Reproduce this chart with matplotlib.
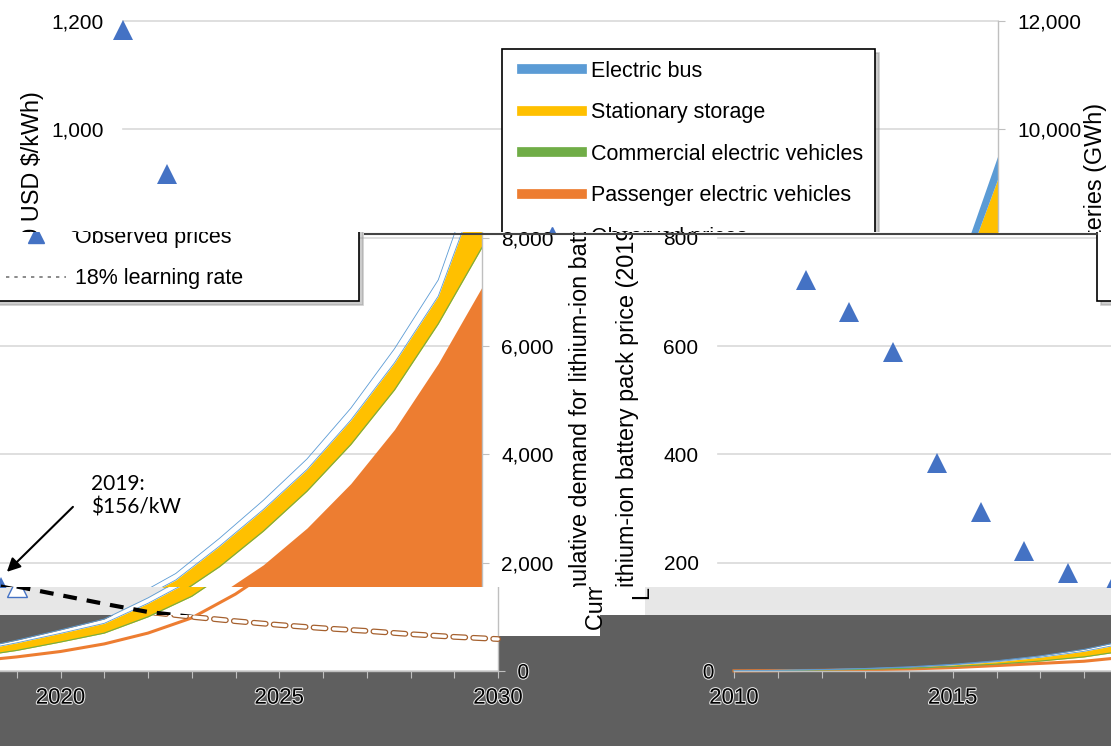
import matplotlib
matplotlib.use("Agg")
import numpy as np
import matplotlib.pyplot as plt
from matplotlib.patches import Rectangle
from matplotlib.lines import Line2D
from matplotlib.legend_handler import HandlerLine2D
from matplotlib.transforms import Bbox, TransformedBbox
import matplotlib.patheffects as pe

plt.rcParams['font.family'] = ['Liberation Sans', 'DejaVu Sans']

# ---------------- data ----------------
years = list(range(2010, 2031))
# cumulative demand for lithium-ion batteries (GWh), stacked layers
passenger = [2, 6, 12, 22, 38, 62, 100, 140, 180, 260, 360, 500, 700, 980,
             1420, 1960, 2640, 3460, 4460, 5680, 7090]
commercial = [1, 3, 5, 8, 12, 20, 27, 44, 80, 120, 175, 200, 300, 400, 505,
              620, 680, 720, 730, 730, 730]
stationary = [1, 4, 8, 13, 20, 31, 45, 70, 104, 140, 160, 180, 250, 300, 380,
              400, 400, 450, 500, 510, 1280]
bus = [1, 1, 3, 5, 8, 12, 18, 26, 36, 50, 65, 80, 100, 120, 145, 170, 195,
       220, 260, 300, 425]

hist_years = list(range(2010, 2020))
hist_price = [1183, 917, 721, 663, 588, 384, 293, 221, 181, 156]

proj_years = list(range(2019, 2031))
proj_price = [156, 140, 124, 109, 100, 92, 85, 79, 74, 68, 63, 59]

layer_labels = ["Electric bus", "Stationary storage",
                "Commercial electric vehicles", "Passenger electric vehicles"]
price_labels = ["Observed prices", "18% learning rate"]

C_BUS, C_STAT, C_COM, C_PAS = '#5B9BD5', '#FFC000', '#70AD47', '#ED7D31'
C_TRI = '#4472C4'

# ---------------- geometry (pixels) ----------------
W, H = 1111, 746
PX0, PX1, PY0, PY1 = 123, 998, 21, 671   # plot area of the undisturbed chart
SHIFT_MID, SHIFT_LOW = 595, 611          # horizontal roll of the lower bands

fig = plt.figure(figsize=(W / 100, H / 100), dpi=100)
fig.patch.set_facecolor('white')


def px_rect(x0, y0, x1, y1):
    return [x0 / W, 1 - y1 / H, (x1 - x0) / W, (y1 - y0) / H]


def band_box(y0, y1):
    return TransformedBbox(Bbox.from_extents(0, 1 - y1 / H, 1, 1 - y0 / H),
                           fig.transFigure)


# background tones of the damaged lower band
for (x0, y0, x1, y1, c) in [(0, 587, W, 615, '#E7E7E7'),
                            (0, 615, W, H, '#5F5F5F'),
                            (498, 587, 645, 615, 'white'),
                            (498, 615, 600, 636, 'white')]:
    fig.add_artist(Rectangle((x0 / W, 1 - y1 / H), (x1 - x0) / W, (y1 - y0) / H,
                             transform=fig.transFigure, facecolor=c,
                             edgecolor='none', zorder=-10))
fig.add_artist(Line2D([365 / W, 1097 / W], [1 - 234 / H] * 2,
                      transform=fig.transFigure, color='#444444', lw=1.5))

yrs = np.array(years)
c1 = np.array(passenger)
c2 = c1 + np.array(commercial)
c3 = c2 + np.array(stationary)
c4 = c3 + np.array(bus)

copies = []


def draw_copy(dx, y0, y1, mode):
    ax = fig.add_axes(px_rect(PX0 + dx, PY0, PX1 + dx, PY1))
    ax2 = ax.twinx()
    ax.set_facecolor('none')
    ax2.set_facecolor('none')
    low = mode in ('low_a', 'low_b')

    # --- stacked demand (right axis) ---
    if low:
        ax.fill_between(yrs, 0, c4, color='white', lw=0, zorder=0.5)
    if mode == 'top':
        ax.fill_between(yrs, 0, c1, color=C_PAS, lw=0)
        ax.fill_between(yrs, c1, c2, color=C_COM, lw=0)
        ax.fill_between(yrs, c2, c3, color=C_STAT, lw=0)
        ax.fill_between(yrs, c3, c4, color=C_BUS, lw=0)
    else:
        if mode == 'mid':
            ax.fill_between(yrs, 0, c1, color=C_PAS, lw=0)
        else:
            ax.plot(yrs, c1, color=C_PAS, lw=2.2)
        ax.plot(yrs, c2, color=C_COM, lw=0.8)
        ax.fill_between(yrs, c2, c3, color=C_STAT, lw=0)
        ax.plot(yrs, c3, color=C_BUS, lw=0.6)
        ax.plot(yrs, c4, color=C_BUS, lw=0.6)

    ax.set_xlim(2010, 2030)
    ax.set_ylim(0, 12000)
    ax2.set_ylim(0, 1200)
    ax.yaxis.tick_right()
    ax.yaxis.set_label_position('right')
    ax2.yaxis.tick_left()

    ax.set_yticks(range(0, 12001, 2000))
    ax.set_yticklabels([f"{v:,}" for v in range(0, 12001, 2000)])
    ax2.set_yticks(range(0, 1201, 200))
    ax2.set_yticklabels([f"{v:,}" for v in range(0, 1201, 200)])
    ax.set_xticks(years)
    ax.set_xticklabels([str(y) if y % 5 == 0 else '' for y in years])

    ax.grid(axis='y', color='#D9D9D9', lw=1.2)
    ax.set_axisbelow(True)
    for s in ('top', 'left'):
        ax.spines[s].set_visible(False)
    for s in ('bottom', 'right'):
        ax.spines[s].set_color('#BFBFBF')
        ax.spines[s].set_linewidth(1.0)
    for s in ax2.spines.values():
        s.set_visible(False)

    ax.tick_params(axis='x', length=5, color='#BFBFBF', labelsize=16, pad=7)
    ax.tick_params(axis='y', length=5, color='#BFBFBF', labelsize=15, pad=9)
    ax2.tick_params(axis='y', length=0, labelsize=15, pad=14)
    if low:
        for lab in ax.get_xticklabels() + ax.get_yticklabels() + ax2.get_yticklabels():
            lab.set_path_effects([pe.withStroke(linewidth=1.5, foreground='#E8E8E8')])

    ax2.text(-0.103, 0.5, "Lithium-ion battery pack price (2019 USD $/kWh)",
             transform=ax2.transAxes, rotation=90, ha='center', va='center',
             fontsize=16.8)
    ax2.text(1.112, 0.469, "Cumulative demand for lithium-ion batteries (GWh)",
             transform=ax2.transAxes, rotation=90, ha='center', va='center',
             fontsize=16.8)

    # --- prices (left axis) ---
    face = 'white' if low else C_TRI
    tri, = ax2.plot(hist_years, hist_price, ls='none', marker='^', ms=14,
                    mfc=face, mec=C_TRI, mew=1.0 if low else 0)
    tri._free = True
    if mode == 'low_b':
        ax2.plot(proj_years, proj_price, color='white', lw=2.4,
                 dashes=(3.6, 2.4), dash_capstyle='round',
                 path_effects=[pe.Stroke(linewidth=4.2, foreground='#A5602E'),
                               pe.Normal()])
    else:
        ax2.plot(proj_years, proj_price, color='black', lw=3,
                 dashes=(3.3, 2.4), dash_capstyle='butt')

    ax2.text(2021.06, 364, "2019:\n$156/kW", family=['Lato', 'DejaVu Sans'],
             fontsize=15, va='top', ha='left', linespacing=1.2)
    ann = ax2.annotate('', xy=(2019.14, 183), xytext=(2020.65, 303),
                       arrowprops=dict(arrowstyle='-|>', color='black', lw=1.5,
                                       mutation_scale=20, shrinkA=0, shrinkB=0))

    handles = [Line2D([], [], color=C_BUS, lw=7),
               Line2D([], [], color=C_STAT, lw=7),
               Line2D([], [], color=C_COM, lw=7),
               Line2D([], [], color=C_PAS, lw=7),
               Line2D([], [], ls='none', marker='^', ms=12, color=C_TRI),
               Line2D([], [], color='#777777', lw=1.2, ls=(0, (2, 3)))]
    leg = ax2.legend(handles, layer_labels + price_labels, loc='upper left',
                     bbox_to_anchor=((502 - PX0) / (PX1 - PX0),
                                     (PY1 - 49) / (PY1 - PY0)),
                     borderaxespad=0, fontsize=15.5, frameon=True,
                     fancybox=False, edgecolor='black', framealpha=1,
                     handlelength=3.16, handletextpad=0.42, labelspacing=0.95,
                     borderpad=0.55,
                     handler_map={Line2D: HandlerLine2D(xpad=0.37)},
                     shadow={'ox': 3, 'oy': -3, 'color': '#9A9A9A'})
    leg.get_frame().set_linewidth(1.2)

    copies.append((ax, ax2, [ann.arrow_patch], band_box(y0, y1)))


draw_copy(0, 0, 232, 'top')
for sh, y0, y1, mode in [(SHIFT_MID, 232, 587, 'mid'),
                         (SHIFT_LOW, 587, 615, 'low_a'),
                         (SHIFT_LOW, 615, H, 'low_b')]:
    draw_copy(sh, y0, y1, mode)
    draw_copy(sh - W, y0, y1, mode)

fig.canvas.draw()
for ax, ax2, extra, box in copies:
    for a in ax.findobj() + ax2.findobj() + extra:
        a.set_clip_box(box)
        a.set_clip_on(True)
        if getattr(a, '_free', False):
            a.set_clip_path(None)

fig.savefig('out.png', dpi=100)
